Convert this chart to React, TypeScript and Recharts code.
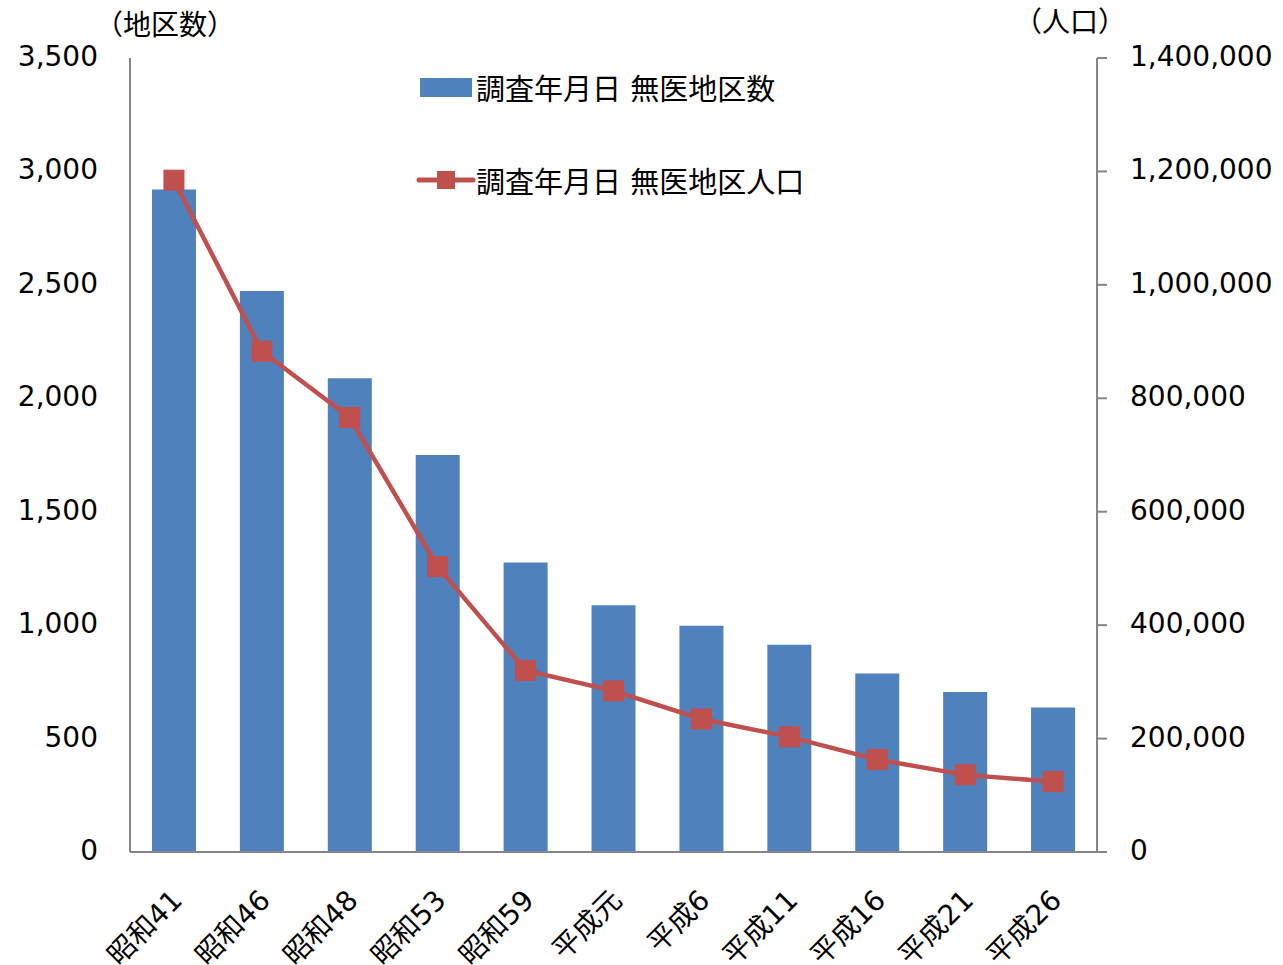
import React from 'react';
import { ComposedChart, Bar, Line, XAxis, YAxis, Legend } from 'recharts';

const FONT = '"DejaVu Sans", "Noto Sans CJK JP", sans-serif';

const years = ['昭和41', '昭和46', '昭和48', '昭和53', '昭和59', '平成元', '平成6', '平成11', '平成16', '平成21', '平成26'];
const districts = [2920, 2473, 2088, 1750, 1276, 1088, 997, 914, 787, 705, 637];
const population = [1184615, 883000, 766000, 503000, 320000, 284000, 234500, 203000, 163000, 136000, 124000];

const leftTicks = [0, 500, 1000, 1500, 2000, 2500, 3000, 3500];
const rightTicks = [0, 200000, 400000, 600000, 800000, 1000000, 1200000, 1400000];

const data = years.map((year, i) => ({
  year,
  districts: districts[i],
  population: population[i],
}));

const fmt = (v: number) => v.toLocaleString('en-US');

const XTick = ({ x, y, payload }: any) => (
  <g transform={`translate(${x + 3},${y + 35})`}>
    <text
      textAnchor="end"
      transform="rotate(-45)"
      dy="0.35em"
      fontSize={28}
      fontFamily={FONT}
      fill="#000"
    >
      {payload.value}
    </text>
  </g>
);

const SquareDot = ({ cx, cy }: any) => (
  <rect x={cx - 10} y={cy - 10} width={20} height={20} fill="#C0504D" stroke="#C0504D" />
);

const renderLegend = ({ payload }: any) => (
  <div style={{ fontFamily: FONT, fontSize: 29, color: '#000' }}>
    {payload.map((entry: any, i: number) => (
      <div key={i} style={{ display: 'flex', alignItems: 'center', height: 93, whiteSpace: 'nowrap' }}>
        <svg width={60} height={24} style={{ flexShrink: 0 }}>
          {entry.type === 'rect' ? (
            <rect x={4} y={3} width={52} height={19} fill="#4F81BD" />
          ) : (
            <g>
              <line x1={3} y1={12} x2={57} y2={12} stroke="#C0504D" strokeWidth={5} strokeLinecap="round" />
              <rect x={21} y={3} width={18} height={18} fill="#C0504D" />
            </g>
          )}
        </svg>
        <span>{entry.value}</span>
      </div>
    ))}
  </div>
);

export default function App() {
  return (
    <div style={{ position: 'absolute', left: 0, top: 0 }}>
      <ComposedChart
        width={1283}
        height={965}
        data={data}
        margin={{ top: 58, right: 0, bottom: 0, left: 0 }}
        barCategoryGap="25%"
      >
        <XAxis
          dataKey="year"
          height={113}
          interval={0}
          tickLine={false}
          axisLine={{ stroke: '#868686', strokeWidth: 2 }}
          tick={<XTick />}
        />
        <YAxis
          yAxisId="left"
          orientation="left"
          width={130}
          domain={[0, 3500]}
          ticks={leftTicks}
          tickFormatter={fmt}
          tickLine={false}
          tickMargin={26}
          axisLine={{ stroke: '#868686', strokeWidth: 2 }}
          tick={{ fontSize: 28, fontFamily: FONT, fill: '#000', dy: -2 }}
          label={{
            content: (p: any) => (
              <text
                x={p.viewBox.x + p.viewBox.width + 35}
                y={p.viewBox.y - 33}
                textAnchor="middle"
                dominantBaseline="central"
                fontSize={28}
                fontFamily={FONT}
                fill="#000"
              >
                （地区数）
              </text>
            ),
          }}
        />
        <YAxis
          yAxisId="right"
          orientation="right"
          width={186}
          domain={[0, 1400000]}
          ticks={rightTicks}
          tickFormatter={fmt}
          tickSize={10}
          tickMargin={23}
          tickLine={{ stroke: '#868686', strokeWidth: 2 }}
          axisLine={{ stroke: '#868686', strokeWidth: 2 }}
          tick={{ fontSize: 28, fontFamily: FONT, fill: '#000', textAnchor: 'start', dy: -2 }}
          label={{
            content: (p: any) => (
              <text
                x={p.viewBox.x - 27}
                y={p.viewBox.y - 36}
                textAnchor="middle"
                dominantBaseline="central"
                fontSize={28}
                fontFamily={FONT}
                fill="#000"
              >
                （人口）
              </text>
            ),
          }}
        />
        <Legend
          layout="horizontal"
          verticalAlign="middle"
          align="center"
          itemSorter="dataKey"
          content={renderLegend}
          wrapperStyle={{ top: 40, left: 416, width: 440, height: 190 }}
        />
        <Bar
          yAxisId="left"
          dataKey="districts"
          name="調査年月日 無医地区数"
          fill="#4F81BD"
          isAnimationActive={false}
        />
        <Line
          yAxisId="right"
          dataKey="population"
          name="調査年月日 無医地区人口"
          stroke="#C0504D"
          strokeWidth={4.5}
          dot={<SquareDot />}
          activeDot={false}
          legendType="line"
          isAnimationActive={false}
        />
      </ComposedChart>
    </div>
  );
}
